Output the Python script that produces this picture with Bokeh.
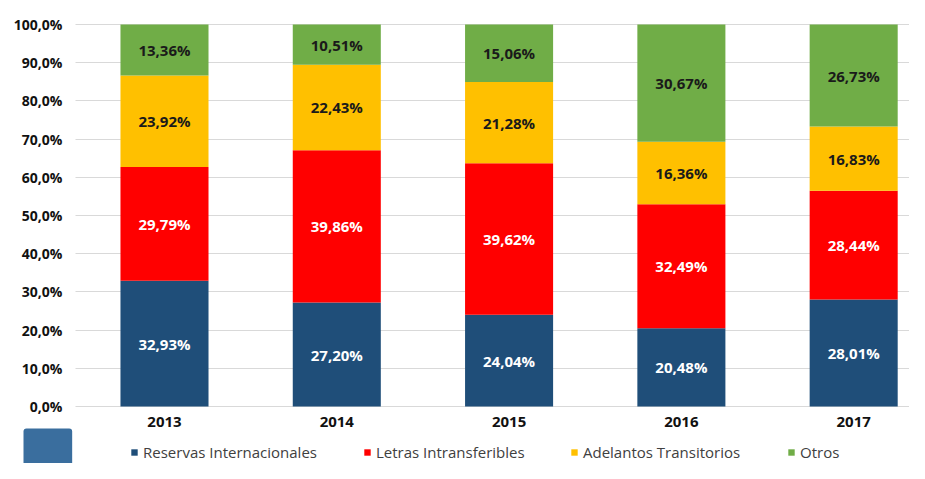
from bokeh.plotting import figure
from bokeh.models import ColumnDataSource, Range1d, Legend, LegendItem, FixedTicker, Label
from bokeh.embed import file_html
from bokeh.resources import INLINE
from bokeh.core.properties import value

years = ["2013", "2014", "2015", "2016", "2017"]
series = ["Reservas Internacionales", "Letras Intransferibles", "Adelantos Transitorios", "Otros"]
reservas = [32.93, 27.20, 24.04, 20.48, 28.01]
letras = [29.79, 39.86, 39.62, 32.49, 28.44]
adelantos = [23.92, 22.43, 21.28, 16.36, 16.83]
otros = [13.36, 10.51, 15.06, 30.67, 26.73]
y_ticks = [0, 10, 20, 30, 40, 50, 60, 70, 80, 90, 100]

colors = ["#1F4E79", "#FF0000", "#FFC000", "#70AD47"]
label_colors = ["#FFFFFF", "#FFFFFF", "#1A1A1A", "#1A1A1A"]
legend_x = [130, 363, 570, 787]
FONT = "Open Sans"

keys = ["s0", "s1", "s2", "s3"]
values = [reservas, letras, adelantos, otros]
idx = list(range(len(years)))
data = {"x": idx}
for k, v in zip(keys, values):
    data[k] = v
src = ColumnDataSource(data)

X_LEFT = -0.5166   # where the plotting area starts (left end of grid lines)
X_RIGHT = 4.324

p = figure(width=909, height=463, output_backend="svg", toolbar_location=None,
           x_range=Range1d(-0.9518, X_RIGHT), y_range=Range1d(-14.92, 106.28),
           min_border_left=0, min_border_right=0, min_border_top=0, min_border_bottom=0)
p.outline_line_color = None
p.background_fill_color = "white"

rs = p.vbar_stack(keys, x="x", width=0.511, source=src, fill_color=colors, line_color=None)

# data labels
bottoms = [0.0] * len(years)
for k, v, tc in zip(keys, values, label_colors):
    ys = [b + val / 2 for b, val in zip(bottoms, v)]
    txt = [f"{val:.2f}".replace(".", ",") + "%" for val in v]
    p.text(x=idx, y=ys, text=txt, text_align="center", text_baseline="middle",
           text_color=tc, text_font=value(FONT), text_font_style="bold", text_font_size="15px")
    bottoms = [b + val for b, val in zip(bottoms, v)]

# axes (drawn at fixed positions inside the canvas)
p.xaxis.fixed_location = 0
p.xaxis.ticker = FixedTicker(ticks=idx)
p.xaxis.major_label_overrides = {i: y for i, y in enumerate(years)}
p.xaxis.axis_line_color = None
p.xaxis.major_tick_line_color = None
p.xaxis.minor_tick_line_color = None
p.xaxis.major_tick_out = 0
p.xaxis.major_label_standoff = 10
p.xaxis.major_label_text_font = FONT
p.xaxis.major_label_text_font_style = "bold"
p.xaxis.major_label_text_font_size = "15px"
p.xaxis.major_label_text_color = "#111111"

p.yaxis.fixed_location = X_LEFT
p.yaxis.ticker = FixedTicker(ticks=y_ticks)
p.yaxis.major_label_overrides = {t: f"{t:.1f}".replace(".", ",") + "%" for t in y_ticks}
p.yaxis.axis_line_color = None
p.yaxis.major_tick_line_color = None
p.yaxis.minor_tick_line_color = None
p.yaxis.major_tick_out = 0
p.yaxis.major_label_standoff = 13
p.yaxis.major_label_text_font = FONT
p.yaxis.major_label_text_font_style = "bold"
p.yaxis.major_label_text_font_size = "14px"
p.yaxis.major_label_text_color = "#111111"

p.xgrid.grid_line_color = None
p.ygrid.grid_line_color = "#D9D9D9"
p.ygrid.grid_line_width = 1
try:
    p.ygrid.cross_bounds = (X_LEFT, X_RIGHT)
except Exception:
    pass

for s, r, lx in zip(series, rs, legend_x):
    lg = Legend(items=[LegendItem(label=s, renderers=[r])],
                orientation="horizontal", location=(lx, 1),
                glyph_width=8, glyph_height=8, label_standoff=5,
                padding=0, margin=0, border_line_color=None, background_fill_alpha=0,
                label_text_font=FONT, label_text_font_size="15px", label_text_color="#404040")
    p.add_layout(lg, "center")

logo = Label(x=23, y=-11, x_units="screen", y_units="screen", text="\u00a0" * 5,
             text_font_size="12px", text_color="#3A6E9E", background_fill_color="#3A6E9E",
             padding=16, border_radius=3)
p.add_layout(logo)

open("out.html", "w").write(file_html(p, INLINE))
